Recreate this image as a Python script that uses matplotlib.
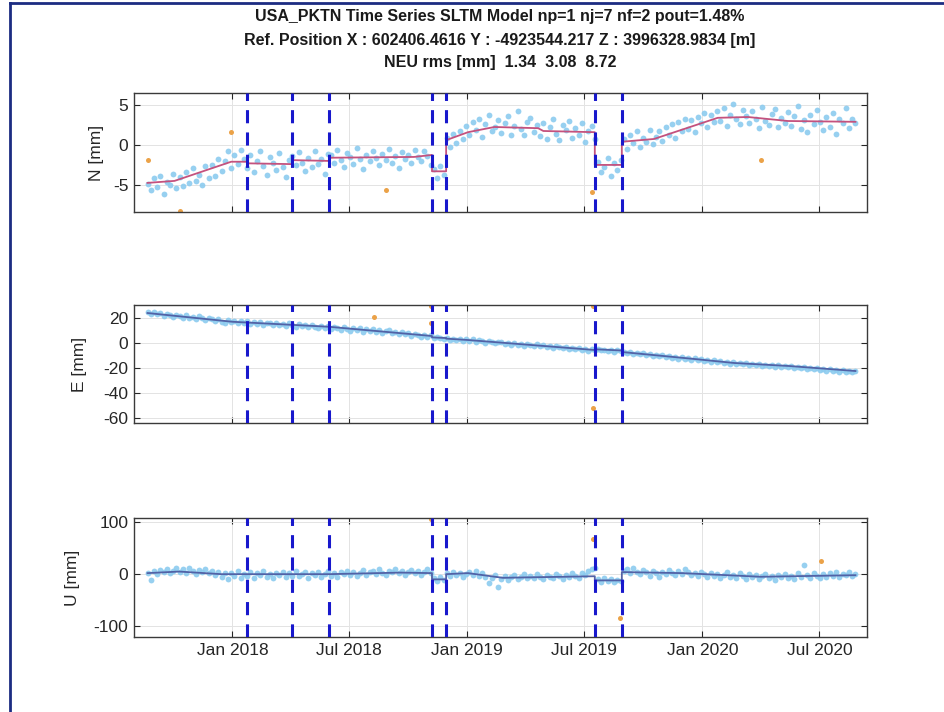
import numpy as np
import pandas as pd
import matplotlib
matplotlib.use("Agg")
import matplotlib.pyplot as plt
import matplotlib.dates as mdates
from matplotlib.lines import Line2D

plt.rcParams['font.family'] = ['Liberation Sans', 'DejaVu Sans']
plt.rcParams['axes.unicode_minus'] = False

title_lines = [
    "USA_PKTN Time Series SLTM Model np=1 nj=7 nf=2 pout=1.48%",
    "Ref. Position X : 602406.4616 Y : -4923544.217 Z : 3996328.9834 [m]",
    "NEU rms [mm]  1.34  3.08  8.72",
]

# observation epochs: first day and sampling step
obs_start = "2017-08-22"
obs_step = "5D"

# north component [mm]
n_obs = [
    -4.9, -5.6, -4.2, -5.3, -3.9, -6.1, -4.6, -5.0, -3.6, -5.4,
    -4.0, -5.2, -3.4, -4.8, -2.9, -4.5, -3.7, -5.0, -2.6, -4.1,
    -2.5, -3.9, -1.8, -3.2, -2.0, -0.8, -2.9, -1.2, -2.4, -0.6,
    -1.8, -2.9, -1.3, -3.4, -2.0, -0.7, -2.6, -3.8, -1.5, -2.2,
    -3.1, -1.0, -2.7, -4.0, -1.9, -1.4, -2.5, -0.9, -2.2, -3.3,
    -1.6, -2.8, -0.8, -2.4, -1.7, -3.6, -1.1, -1.3, -2.2, -0.6,
    -1.9, -2.7, -1.0, -1.5, -2.4, -0.4, -1.8, -3.0, -1.2, -2.0,
    -0.7, -1.6, -2.5, -1.1, -1.9, -0.5, -2.2, -1.4, -2.9, -0.9,
    -1.8, -1.2, -2.3, -0.6, -1.5, -2.0, -0.8, -1.4, -2.5,
    -3.0, -4.2, -2.6, -3.7,
    0.9, -0.2, 1.4, 0.3, 1.8, 0.8, 2.4,
    1.2, 2.9, 1.9, 3.3, 1.0, 2.6, 3.8, 1.7, 2.3, 3.1,
    1.5, 2.8, 3.6, 1.2, 2.4, 4.2, 2.0, 1.3, 2.9, 3.4, 1.6, 2.5,
    1.1, 2.7, 0.8, 2.2, 3.3, 1.4, 0.6, 2.5, 1.9, 3.0,
    0.9, 2.1, 1.3, 2.8, 0.4, 1.7, 2.4, 0.7,
    -2.1, -3.4, -2.8, -1.6, -3.9, -2.3, -3.1, -1.9,
    0.8, -0.5, 1.3, 0.2, 1.7, -0.2, 0.9, 0.4, 1.9, 0.1,
    1.0, 1.8, 0.5, 2.2, 1.3, 2.6, 0.9, 2.9, 1.8, 3.3,
    2.0, 3.1, 1.6, 3.5, 2.7, 4.0, 2.3, 3.8, 2.9, 4.3,
    3.0, 4.6, 2.4, 3.7, 5.1, 3.2, 2.6, 4.4, 3.6,
    2.8, 4.2, 3.3, 2.1, 4.8, 3.0, 2.5, 3.9, 4.5, 2.2, 3.4, 2.7, 4.1,
    2.4, 3.6, 4.9, 2.0, 3.1, 1.6, 3.8, 2.6, 4.4, 2.9, 1.9,
    3.5, 2.3, 4.0, 1.4, 3.2, 2.8, 4.6, 2.1, 3.3, 2.7,
]

# east component [mm]
e_obs = [
    24.5, 23.2, 25.1, 22.9, 23.8, 21.7, 23.5, 22.4, 20.9, 22.8,
    21.9, 20.3, 22.5, 20.0, 21.2, 19.4, 21.6, 19.9, 18.6, 20.4,
    19.3, 17.6, 18.9, 17.2, 16.4, 18.3, 16.9, 17.8, 15.9, 17.4,
    16.1, 17.9, 15.6, 16.8, 15.2, 17.1, 14.8, 16.3, 15.7, 14.4,
    16.2, 14.6, 15.4, 13.8, 15.9, 14.1, 13.2, 15.0, 13.7, 14.5,
    12.6, 14.3, 13.1, 11.8, 13.9, 12.4, 13.6,
    11.5, 13.2, 12.0, 10.4, 12.7, 11.1, 9.3, 11.8, 10.2, 12.1,
    8.6, 10.9, 9.7, 11.3, 9.0, 10.1, 8.2, 9.5, 10.6, 8.0,
    9.1, 7.4, 8.6, 6.9, 8.0, 5.8, 7.6, 6.3, 4.9, 6.8, 5.2, 6.1,
    3.8, 5.2, 4.4, 3.5,
    4.1, 2.8, 3.6, 2.2, 3.3, 1.8, 2.9,
    1.7, 2.9, 0.8, 2.1, 1.4, 0.2, 1.6, 0.9, -0.3, 1.2,
    0.6, -0.8, 0.1, -1.2, -0.2, -1.7, -0.5, -2.0, -0.9, -1.4,
    -2.3, -1.1, -2.6, -1.8, -3.2, -2.1, -3.7, -2.5, -3.0, -4.1,
    -3.3, -4.5, -3.9, -5.0, -4.2, -5.6, -4.8, -6.1, -5.0, -5.7,
    -4.6, -5.9, -5.2, -6.4, -5.5, -6.8, -5.8, -6.5,
    -6.8, -7.9, -7.0, -8.4, -7.6, -9.1, -8.0, -9.5, -8.7, -10.1,
    -9.2, -10.6, -9.8, -11.3, -10.4, -11.9, -10.9, -12.5, -11.4, -12.8, -12.0, -13.4,
    -12.1, -13.6, -12.9, -14.2, -13.3, -14.8, -13.9, -15.3, -14.5, -15.9, -15.0, -16.4, -15.4, -16.8,
    -15.7, -16.9, -16.2, -17.4, -16.5, -17.8, -16.9, -18.1, -17.2, -18.6, -17.5, -18.9, -17.9, -19.2, -18.3, -19.0,
    -18.0, -19.7, -18.9, -20.2, -19.3, -20.6, -19.6, -21.0, -20.1, -21.4, -20.5,
    -22.0, -21.1, -22.3, -21.5, -22.8, -21.8, -23.1, -22.2, -23.4, -22.6,
]

# up component [mm]
u_obs = [
    3, -12, 6, 1, 8, 4, 10, 2, 7, 11, 5,
    9, 3, 12, 6, 1, 8, 4, 10, 2, 6,
    -1, 5, -6, 2, -9, 3, -4, 6, -8, 1,
    -3, 4, -7, 2, -2, 6, -5, 1, -8, 3,
    -1, 5, -6, 2, -3, 7, -4, 0, 4, -7,
    2, -2, 5, -5, 1, 6, -3, 3, -6, 4,
    0, 7, -2, 5, -4, 3, 8, -1, 4, 6,
    1, 9, 3, -2, 6, 4, 10, 2, 7, -1, 5, 8,
    3, 6, -1, 4, 9, 2,
    -8, -13, -6, -11,
    2, -4, 5, -2, 3, -6, 1,
    4, -1, 6, -3, 2, -5, -17, -8, -2, -25, -10,
    -4, -11, -6, -2, -9, -5, 0, -8, -3, -7, 1, -6, -9, -2, -5,
    -8, 0, -4, -10, -1, -6, 2, -3, -7, 3, -2, 6, 9, 12,
    -10, -15, -8, -13, -9, -16, -11, -14,
    6, 9, 3, 11, 5, 1, 8, 4, -3, 7, 2, -6,
    5, 0, 8, 3, -2, 6, 1, 9, 4, -1,
    2, -4, 5, 0, -6, 3, -3, 1, -7, -2, 4, -5,
    -1, -8, 2, -4, -9, 0, -6, -2, -10, -3, 1, -7, -4, -11, -2, -6, 0, -8,
    -3, -9, 2, -5, 17, -1, -7, 3, -4, -8, 1,
    -6, 2, -3, 4, -5, 0, -2, 5, -4, 1,
]

# estimated jump epochs
jump_dates = ["2018-01-24", "2018-04-04", "2018-05-31", "2018-11-07",
              "2018-11-29", "2019-07-18", "2019-08-29"]

# fitted trajectory model (knots, repeated dates = offsets)
n_model_dates = ["2017-08-22", "2017-10-03", "2017-12-30", "2018-01-24", "2018-01-24",
                 "2018-04-04", "2018-04-04", "2018-05-31", "2018-05-31", "2018-10-10",
                 "2018-11-07", "2018-11-07", "2018-11-29", "2018-11-29", "2019-01-02",
                 "2019-02-12", "2019-04-21", "2019-04-29", "2019-07-18", "2019-07-18",
                 "2019-08-29", "2019-08-29", "2019-10-18", "2020-01-25", "2020-03-12",
                 "2020-05-13", "2020-08-26"]
n_model = [-4.75, -4.5, -2.1, -2.1, -2.3,
           -2.4, -1.9, -2.0, -1.6, -1.5,
           -1.25, -3.3, -3.3, 0.6, 1.6,
           2.25, 2.1, 1.75, 1.6, -2.5,
           -2.5, 0.4, 0.75, 3.4, 3.5,
           3.0, 2.9]

e_model_dates = ["2017-08-22", "2018-01-01", "2018-05-31", "2018-11-07", "2018-11-07",
                 "2018-11-29", "2018-11-29", "2019-01-02", "2019-07-18", "2019-07-18",
                 "2019-08-29", "2019-08-29", "2019-12-14", "2020-02-20", "2020-05-15",
                 "2020-08-26"]
e_model = [24.0, 17.0, 13.0, 5.6, 4.5,
           4.0, 3.5, 2.4, -5.6, -5.0,
           -6.0, -7.2, -12.5, -16.0, -18.4,
           -22.4]

u_model_dates = ["2017-08-22", "2017-10-10", "2017-12-15", "2018-05-31", "2018-09-20",
                 "2018-11-07", "2018-11-07", "2018-11-29", "2018-11-29", "2019-01-02",
                 "2019-02-25", "2019-07-18", "2019-07-18", "2019-08-29", "2019-08-29",
                 "2019-12-01", "2020-04-01", "2020-08-26"]
u_model = [2, 5, 0, 0, 3,
           2, -10, -10, 0, 2,
           -7, -4, -12, -12, 4,
           2, -5, -2]

# rejected outliers
n_out_dates = ["2017-08-22", "2017-10-12", "2017-12-29", "2018-08-27", "2019-07-13", "2020-04-01"]
n_out = [-1.9, -8.3, 1.6, -5.6, -5.9, -1.9]
e_out_dates = ["2018-08-09", "2018-11-05", "2018-11-05", "2019-07-15", "2019-07-15"]
e_out = [21, 30, 16, 30, -52]
u_out_dates = ["2018-11-05", "2019-07-15", "2019-08-26", "2020-07-03"]
u_out = [107, 67, -85, 25]

tick_dates = ["2018-01-01", "2018-07-01", "2019-01-01", "2019-07-01", "2020-01-01", "2020-07-01"]

panels = [
    ("N [mm]", n_obs, n_model_dates, n_model, n_out_dates, n_out,
     (-8.4, 6.5), [-5, 0, 5], '#c4527e', -0.041),
    ("E [mm]", e_obs, e_model_dates, e_model, e_out_dates, e_out,
     (-64, 30.4), [-60, -40, -20, 0, 20], '#5262a6', -0.064),
    ("U [mm]", u_obs, u_model_dates, u_model, u_out_dates, u_out,
     (-121, 108), [-100, 0, 100], '#5262a6', -0.074),
]

fig = plt.figure(figsize=(9.45, 7.12), dpi=100)
fig.patch.set_facecolor('white')

ax_rects = [
    [0.1418, 0.7022, 0.7757, 0.1671],
    [0.1418, 0.4059, 0.7757, 0.1657],
    [0.1418, 0.1053, 0.7757, 0.1671],
]

for i, (label, obs, mdates_, model, odates, outl, ylim, yticks, mcol, lab_x) in enumerate(panels):
    ax = fig.add_axes(ax_rects[i])
    t = pd.date_range(obs_start, periods=len(obs), freq=obs_step)
    ax.plot(t, obs, 'o', ms=4.2, mew=0, color='#8ccbef', alpha=0.9, zorder=2)
    ax.plot(pd.to_datetime(odates), outl, 'o', ms=3.6, mew=0, color='#eba248', zorder=2)
    ax.plot(pd.to_datetime(mdates_), model, '-', lw=1.3, color=mcol, zorder=3)
    for d in jump_dates:
        ax.axvline(pd.Timestamp(d), color='#1818cc', lw=2.2, dashes=(4.3, 3.0), zorder=4)

    ax.set_xlim(pd.Timestamp("2017-08-01"), pd.Timestamp("2020-09-13"))
    ax.set_ylim(*ylim)
    ax.set_yticks(yticks)
    ax.set_xticks(pd.to_datetime(tick_dates))
    ax.xaxis.set_major_formatter(mdates.DateFormatter('%b %Y'))
    if i < 2:
        ax.tick_params(labelbottom=False)
    ax.grid(True, color='#e3e3e3', lw=0.7, zorder=0)
    ax.set_axisbelow(True)
    ax.tick_params(direction='in', top=True, right=True, length=4, width=0.8,
                   colors='#262626', labelsize=12.5, pad=4)
    for sp in ax.spines.values():
        sp.set_color('#3a3a3a')
        sp.set_linewidth(1.0)
    ax.set_ylabel(label, fontsize=12.5, color='#262626')
    ax.yaxis.set_label_coords(lab_x, 0.5)

# three-line header
for j, line in enumerate(title_lines):
    fig.text(0.529, 1 - (17 + 23 * j) / 712, line, ha='center', va='center',
             fontsize=11.5, fontweight='bold', color='#1a1a1a')

# frame lines on the left and top
fig.add_artist(Line2D([10 / 945, 10 / 945], [0, 1 - 3 / 712], transform=fig.transFigure,
                      color='#1c2c82', lw=2.0))
fig.add_artist(Line2D([10 / 945, 1], [1 - 3 / 712, 1 - 3 / 712], transform=fig.transFigure,
                      color='#1c2c82', lw=2.0))

fig.savefig("out.png", dpi=100)
